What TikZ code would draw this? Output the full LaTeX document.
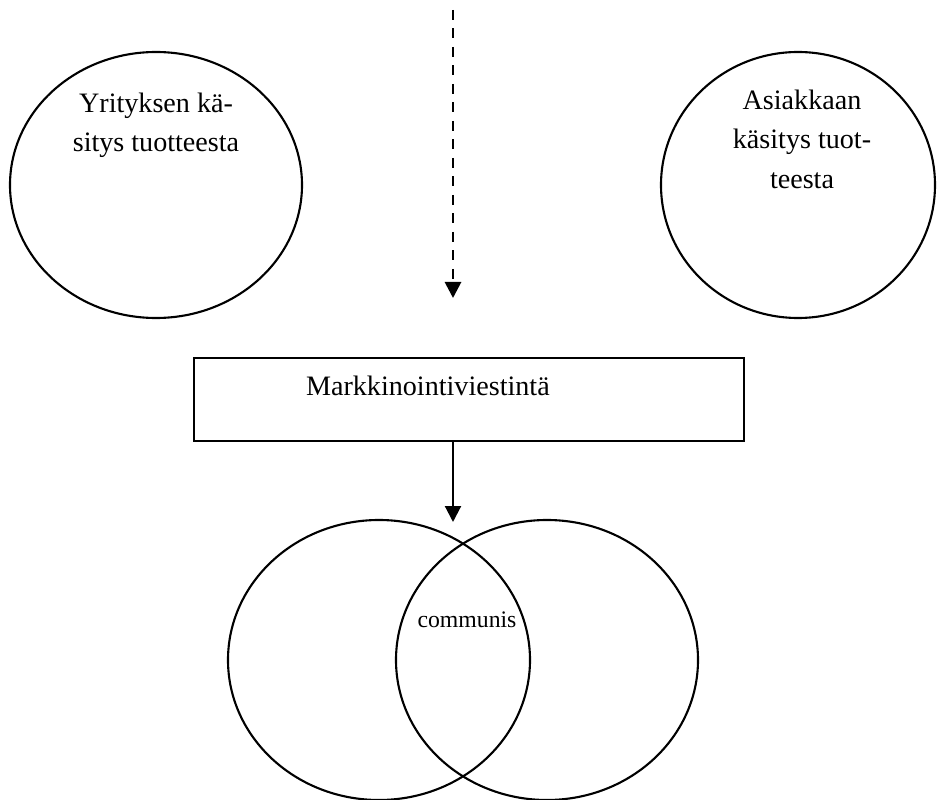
\documentclass[tikz,border=0pt]{standalone}
\usepackage{fontspec}
\setmainfont{Liberation Serif}
\usetikzlibrary{arrows.meta,positioning,shapes.geometric}

\begin{document}
\begin{tikzpicture}[
    font=\fontsize{16}{22.4}\selectfont,
    >={Triangle[length=0.32cm,width=0.32cm]},
    line width=1.2pt,
    oval/.style={draw, ellipse, inner sep=0pt},
    txt/.style={inner sep=0pt, align=center}
]
    \useasboundingbox (0,0) rectangle (18.76,-16);

    % the two views of the product
    \node[oval, minimum width=5.84cm, minimum height=5.32cm] (yritys) at (3.12,-3.70) {};
    \node[oval, minimum width=5.48cm, minimum height=5.32cm] (asiakas) at (15.96,-3.70) {};
    \node[txt, anchor=north] (yritysteksti) at (3.12,-1.84) {Yrityksen kä-\\sitys tuotteesta};
    \node[txt, anchor=north] (asiakasteksti) at (16.04,-1.78) {Asiakkaan\\käsitys tuot-\\teesta};

    % dashed arrow from the top
    \coordinate (alku) at (9.06,-0.20);
    \coordinate (loppu) at (9.06,-5.96);
    \draw[->, dash pattern=on 0.2cm off 0.17cm, line width=1.6pt] (alku) -- (loppu);

    % communication box
    \node[draw, minimum width=11.0cm, minimum height=1.66cm] (viestinta) at (9.38,-7.99) {};
    \node[txt, anchor=base west] (viestintateksti) at (6.10,-7.92) {Markkinointiviestintä};

    % the shared area
    \node[oval, minimum width=6.04cm, minimum height=5.6cm] (vasen) at (7.58,-13.20) {};
    \node[oval, minimum width=6.04cm, minimum height=5.6cm] (oikea) at (10.94,-13.20) {};
    \node[txt, anchor=base, font=\fontsize{13.5}{16}\selectfont] (communis) at (9.34,-12.54) {communis};

    \coordinate (karki) at (9.06,-10.44);
    \draw[->] (viestinta.south -| karki) -- (karki);
\end{tikzpicture}
\end{document}
